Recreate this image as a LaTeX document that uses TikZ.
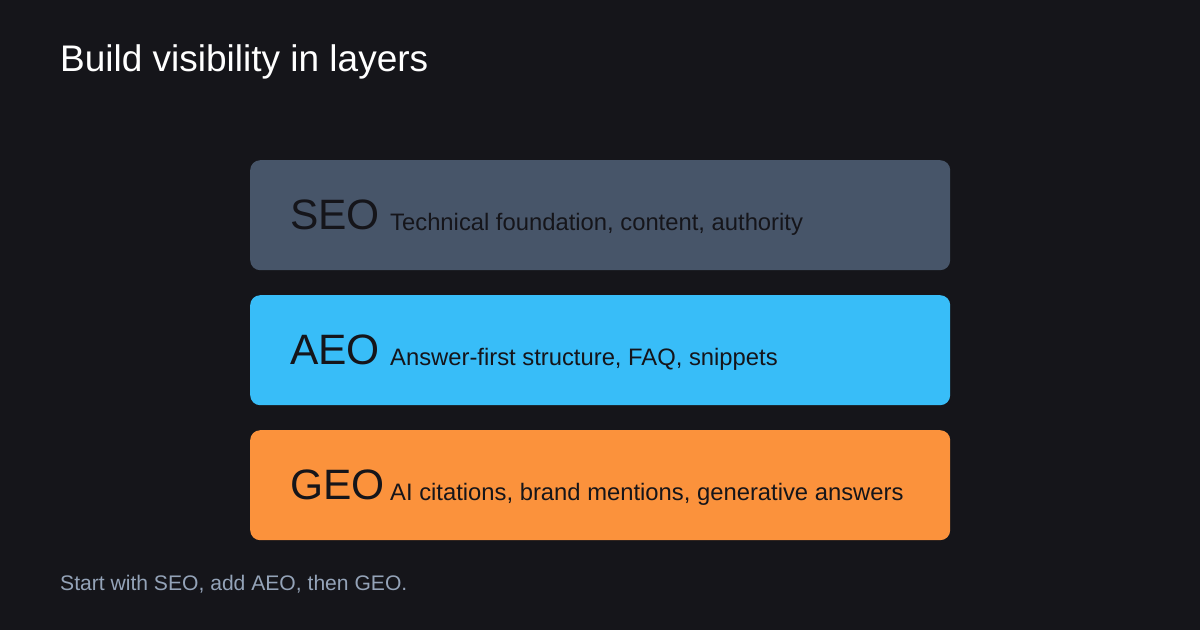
\documentclass[tikz,border=0pt]{standalone}
\usepackage{fontspec}
\setmainfont{Liberation Sans}
\usetikzlibrary{positioning}

\definecolor{bg}{HTML}{15151A}
\definecolor{ink}{HTML}{15151A}
\definecolor{seofill}{HTML}{475569}
\definecolor{aeofill}{HTML}{38BDF8}
\definecolor{geofill}{HTML}{FB923C}
\definecolor{note}{HTML}{94A3B8}

\begin{document}
\begin{tikzpicture}[x=1pt,y=-1pt]
  \tikzstyle{layer}=[
    rectangle, rounded corners=10pt,
    minimum width=700pt,
    minimum height=110pt,
    inner sep=0pt,
    anchor=north west
  ]
  \tikzstyle{tag}=[
    anchor=base west, inner sep=0pt, text=ink,
    font=\fontsize{42.5}{48}\selectfont
  ]
  \tikzstyle{desc}=[
    anchor=base west, inner sep=0pt, text=ink,
    font=\fontsize{23.8}{28}\selectfont
  ]

  % canvas
  \fill[bg] (0,0) rectangle (1200,630);
  \useasboundingbox (0,0) rectangle (1200,630);

  \node[anchor=base west, inner sep=0pt, text=white,
        font=\fontsize{37}{44}\selectfont] (title) at (60,71) {Build visibility in layers};

  % layers
  \node[layer, fill=seofill] (seo) at (250,160) {};
  \node[layer, fill=aeofill] (aeo) at (250,295) {};
  \node[layer, fill=geofill] (geo) at (250,430) {};

  \node[tag]  (seo tag)  at (290,229) {SEO};
  \node[desc] (seo desc) at (390,230) {Technical foundation, content, authority};
  \node[tag]  (aeo tag)  at (290,364) {AEO};
  \node[desc] (aeo desc) at (390,365) {Answer-first structure, FAQ, snippets};
  \node[tag]  (geo tag)  at (290,499) {GEO};
  \node[desc] (geo desc) at (390,500) {AI citations, brand mentions, generative answers};

  \node[anchor=base west, inner sep=0pt, text=note,
        font=\fontsize{21.1}{25}\selectfont] (footer) at (60,590) {Start with SEO, add AEO, then GEO.};
\end{tikzpicture}
\end{document}
